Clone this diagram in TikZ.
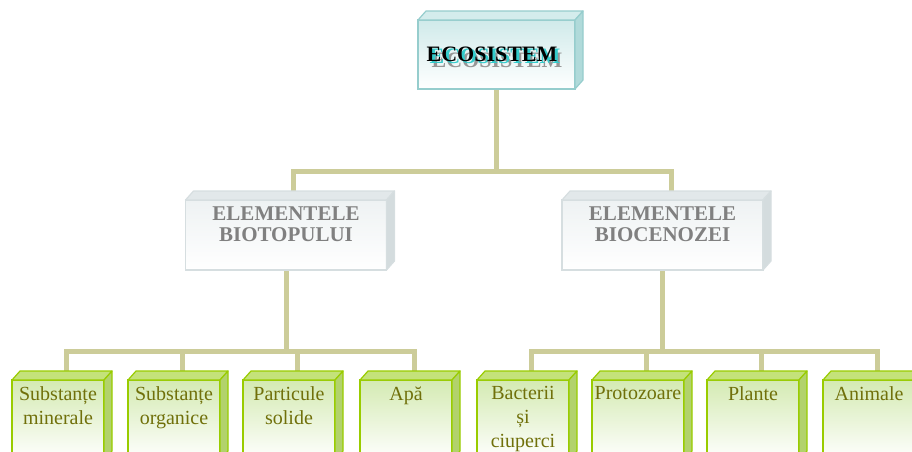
\documentclass[tikz,border=0pt]{standalone}
\usepackage{fontspec}
\setmainfont{Liberation Serif}
\usetikzlibrary{calc,backgrounds}
\definecolor{conn}{RGB}{204,204,153}
\definecolor{gborder}{RGB}{153,204,0}
\definecolor{gfront}{RGB}{212,234,178}
\definecolor{gtop}{RGB}{196,226,122}
\definecolor{gside}{RGB}{178,210,108}
\definecolor{gtext}{RGB}{112,112,10}
\definecolor{mborder}{RGB}{214,222,224}
\definecolor{mfront}{RGB}{238,242,243}
\definecolor{mtop}{RGB}{226,232,234}
\definecolor{mside}{RGB}{212,220,222}
\definecolor{mtext}{RGB}{128,128,128}
\definecolor{tborder}{RGB}{150,205,205}
\definecolor{tfront}{RGB}{208,234,234}
\definecolor{ttop}{RGB}{212,236,236}
\definecolor{tside}{RGB}{176,218,218}
\definecolor{tcyan}{RGB}{51,204,204}
\definecolor{tgray}{RGB}{150,150,150}
\newcommand\cubefaces[4]{%
  \filldraw[fill=#2,draw=#4,line width=1.2pt,line join=round]
    (#1.north west) -- ++(8,-9) -- ($(#1.north east)+(8,-9)$) -- (#1.north east) -- cycle;
  \filldraw[fill=#3,draw=#4,line width=1.2pt,line join=round]
    (#1.north east) -- ++(8,-9) -- ($(#1.south east)+(8,-9)$) -- (#1.south east) -- cycle;}
\tikzset{
  connline/.style={draw=conn,line width=5pt,line join=miter},
  topbox/.style={draw=tborder,line width=1.2pt,top color=tfront,bottom color=white,
    minimum width=157pt,minimum height=69pt,inner sep=0,outer sep=0},
  midbox/.style={draw=mborder,line width=1.2pt,top color=mfront,bottom color=white,
    minimum width=201pt,minimum height=70pt,inner sep=0,outer sep=0},
  leafbox/.style={draw=gborder,line width=1.5pt,top color=gfront,bottom color=white,
    minimum width=92pt,minimum height=80pt,inner sep=0,outer sep=0,anchor=north west},
  leaftext/.style={anchor=north,inner sep=0,align=center,text=gtext,
    font=\fontsize{20}{24}\selectfont},
  midtext/.style={anchor=north,inner sep=0,align=center,text=mtext,
    font=\fontsize{21}{20.5}\selectfont\bfseries},
  ecotext/.style={anchor=base,inner sep=0,font=\fontsize{22}{24}\selectfont\bfseries},
}
\begin{document}
\begin{tikzpicture}[x=1pt,y=-1pt]
\useasboundingbox (0,0) rectangle (912,451);
\clip (0,0) rectangle (912,451);
% top box
\node[topbox] (eco) at (496.5,54.5) {};
\cubefaces{eco}{ttop}{tside}{tborder}
\node[ecotext,text=tgray] (eco3) at (497,67.7) {ECOSISTEM};
\node[ecotext,text=tcyan] (eco2) at (495,63.7) {ECOSISTEM};
\node[ecotext,text=black] (eco1) at (492,61.7) {ECOSISTEM};
% middle boxes
\node[midbox] (ml) at (286,235) {};
\cubefaces{ml}{mtop}{mside}{mborder}
\node[midtext] (mlt) at (286,207) {ELEMENTELE\\BIOTOPULUI};
\node[midbox] (mr) at (662.5,235) {};
\cubefaces{mr}{mtop}{mside}{mborder}
\node[midtext] (mrt) at (662.5,207) {ELEMENTELE\\BIOCENOZEI};
% leaf boxes
\foreach \i/\x in {1/12,2/128,3/243,4/360,5/477,6/592,7/707,8/823}{
  \node[leafbox] (b\i) at (\x,380) {};
  \cubefaces{b\i}{gtop}{gside}{gborder}
}
\node[leaftext] (t1) at (b1.north) [yshift=-6.4pt] {Substanțe\\minerale};
\node[leaftext] (t2) at (b2.north) [yshift=-6.4pt] {Substanțe\\organice};
\node[leaftext] (t3) at (b3.north) [yshift=-6.4pt] {Particule\\solide};
\node[leaftext] (t4) at (b4.north) [yshift=-6.4pt] {Apă};
\node[leaftext] (t5) at (b5.north) [yshift=-6.4pt] {Bacterii\\și\\ciuperci};
\node[leaftext] (t6) at (b6.north) [yshift=-6.4pt] {Protozoare};
\node[leaftext] (t7) at (b7.north) [yshift=-6.4pt] {Plante};
\node[leaftext] (t8) at (b8.north) [yshift=-6.4pt] {Animale};
% connectors
\begin{scope}[on background layer]
\coordinate (hA) at (0,171);
\coordinate (hB) at (0,351);
\coordinate (cml) at ($(ml.north)+(7,0)$);
\coordinate (cmr) at ($(mr.north)+(9,0)$);
\foreach \i in {1,...,8}{\coordinate (c\i) at ($(b\i.north)+(8,0)$);}
\draw[connline] (eco.south) -- (eco.south |- hA);
\draw[connline] (cml) |- (cmr |- hA) -- (cmr);
\draw[connline] (ml.south) -- (ml.south |- hB);
\draw[connline] (c1) |- (c4 |- hB) -- (c4);
\draw[connline] (c2) -- (c2 |- hB);
\draw[connline] (c3) -- (c3 |- hB);
\draw[connline] (mr.south) -- (mr.south |- hB);
\draw[connline] (c5) |- (c8 |- hB) -- (c8);
\draw[connline] (c6) -- (c6 |- hB);
\draw[connline] (c7) -- (c7 |- hB);
\end{scope}
\end{tikzpicture}
\end{document}
